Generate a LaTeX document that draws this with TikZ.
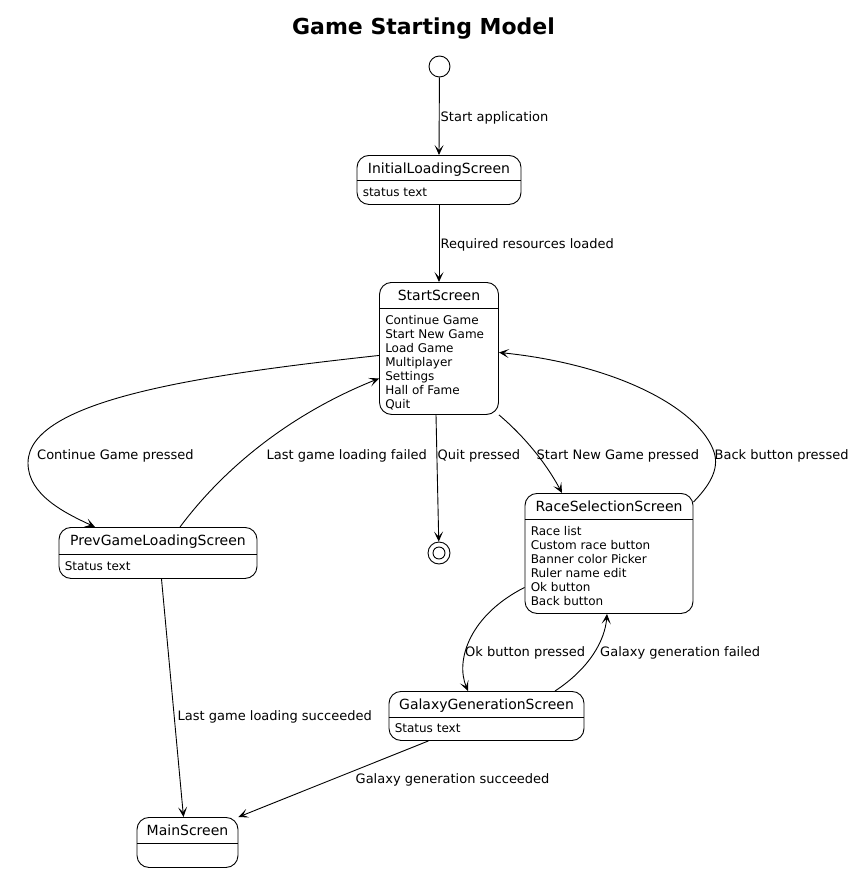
\documentclass[tikz,border=0pt]{standalone}
\usepackage{fontspec}
\setmainfont{DejaVu Sans}
\usetikzlibrary{arrows.meta}

\begin{document}
\begin{tikzpicture}[x=1pt,y=-1pt,
  statebox/.style={draw, rounded corners=12pt, line width=0.9pt, inner sep=0pt, anchor=north},
  statename/.style={font=\fontsize{14}{16}\selectfont, anchor=base, inner sep=0pt},
  statebody/.style={font=\fontsize{12}{14}\selectfont, anchor=base west, inner sep=0pt},
  separator/.style={line width=0.9pt},
  trlabel/.style={font=\fontsize{13}{15}\selectfont, anchor=base west, inner sep=0pt},
  transition/.style={-{Stealth[length=10pt,width=9pt,inset=5pt]}, line width=0.9pt},
  pseudo/.style={draw, circle, inner sep=0pt, line width=0.9pt}]
\useasboundingbox (0,0) rectangle (855,872);
\node[font=\fontsize{22}{26}\selectfont\bfseries, anchor=base] (Title) at (423.5,34.5) {Game Starting Model};

\node[pseudo, minimum size=21pt] (StartPoint) at (439.5,66.5) {};
\node[pseudo, minimum size=22pt] (EndPoint) at (439,553) {};
\node[pseudo, minimum size=12pt] (EndPointInner) at (439,553) {};

\node[statebox, minimum width=164pt, minimum height=49pt] (InitialLoadingScreen) at (439,155) {};
\node[statename] (InitialLoadingScreenName) at ([yshift=-18pt]InitialLoadingScreen.north) {InitialLoadingScreen};
\draw[separator] ([yshift=-25pt]InitialLoadingScreen.north west) -- ([yshift=-25pt]InitialLoadingScreen.north east);
\node[statebody] (InitialLoadingScreenBody) at ([xshift=6pt,yshift=-41.5pt]InitialLoadingScreen.north west) {status text};

\node[statebox, minimum width=119pt, minimum height=132pt] (StartScreen) at (439,282) {};
\node[statename] (StartScreenName) at ([yshift=-18.5pt]StartScreen.north) {StartScreen};
\draw[separator] ([yshift=-26pt]StartScreen.north west) -- ([yshift=-26pt]StartScreen.north east);
\node[statebody] (StartScreenBody) at ([xshift=6pt,yshift=-42pt]StartScreen.north west)
  {\begin{tabular}[t]{@{}l@{}}Continue Game\\Start New Game\\Load Game\\Multiplayer\\Settings\\Hall of Fame\\Quit\end{tabular}};

\node[statebox, minimum width=198pt, minimum height=51pt] (PrevGameLoadingScreen) at (158,527) {};
\node[statename] (PrevGameLoadingScreenName) at ([yshift=-18.5pt]PrevGameLoadingScreen.north) {PrevGameLoadingScreen};
\draw[separator] ([yshift=-27pt]PrevGameLoadingScreen.north west) -- ([yshift=-27pt]PrevGameLoadingScreen.north east);
\node[statebody] (PrevGameLoadingScreenBody) at ([xshift=6pt,yshift=-43pt]PrevGameLoadingScreen.north west) {Status text};

\node[statebox, minimum width=168pt, minimum height=120pt] (RaceSelectionScreen) at (609,493) {};
\node[statename] (RaceSelectionScreenName) at ([yshift=-18.5pt]RaceSelectionScreen.north) {RaceSelectionScreen};
\draw[separator] ([yshift=-26pt]RaceSelectionScreen.north west) -- ([yshift=-26pt]RaceSelectionScreen.north east);
\node[statebody] (RaceSelectionScreenBody) at ([xshift=6pt,yshift=-42pt]RaceSelectionScreen.north west)
  {\begin{tabular}[t]{@{}l@{}}Race list\\Custom race button\\Banner color Picker\\Ruler name edit\\Ok button\\Back button\end{tabular}};

\node[statebox, minimum width=195pt, minimum height=49pt] (GalaxyGenerationScreen) at (486.5,691) {};
\node[statename] (GalaxyGenerationScreenName) at ([yshift=-18.5pt]GalaxyGenerationScreen.north) {GalaxyGenerationScreen};
\draw[separator] ([yshift=-26pt]GalaxyGenerationScreen.north west) -- ([yshift=-26pt]GalaxyGenerationScreen.north east);
\node[statebody] (GalaxyGenerationScreenBody) at ([xshift=6pt,yshift=-41.5pt]GalaxyGenerationScreen.north west) {Status text};

\node[statebox, minimum width=101pt, minimum height=50pt] (MainScreen) at (187.5,817) {};
\node[statename] (MainScreenName) at ([yshift=-18.5pt]MainScreen.north) {MainScreen};
\draw[separator] ([yshift=-26pt]MainScreen.north west) -- ([yshift=-26pt]MainScreen.north east);

\draw[transition] (StartPoint) -- (InitialLoadingScreen.north);
\draw[transition] (InitialLoadingScreen.south) -- (StartScreen.north);
\draw[transition] ([yshift=-7pt]StartScreen.west) .. controls (200,375) and (28,400) .. (28,463)
  .. controls (28,495) and (65,513) .. ([xshift=-63pt]PrevGameLoadingScreen.north);
\draw[transition] ([xshift=22pt]PrevGameLoadingScreen.north) .. controls (230,460) and (300,410) .. ([yshift=-30pt]StartScreen.west);
\draw[transition] ([xshift=-3pt]StartScreen.south) -- (EndPoint);
\draw[transition] (StartScreen.south east) .. controls (524,436) and (546,463) .. ([xshift=-47pt]RaceSelectionScreen.north);
\draw[transition] ([yshift=-9pt]RaceSelectionScreen.north east) .. controls (708,487) and (720,470) .. (714,452)
  .. controls (700,410) and (620,365) .. ([yshift=-4pt]StartScreen.east);
\draw[transition] ([yshift=-34pt]RaceSelectionScreen.west) .. controls (470,615) and (455,660) .. ([xshift=-18.5pt]GalaxyGenerationScreen.north);
\draw[transition] ([xshift=68.5pt]GalaxyGenerationScreen.north) .. controls (590,668) and (605,640) .. ([xshift=-2pt]RaceSelectionScreen.south);
\draw[transition] ([xshift=3.5pt]PrevGameLoadingScreen.south) -- ([xshift=-4pt]MainScreen.north);
\draw[transition] ([xshift=-58pt]GalaxyGenerationScreen.south) -- (MainScreen.north east);

\node[trlabel] (StartApplicationLabel) at (440.5,121.5) {Start application};
\node[trlabel] (ResourcesLoadedLabel) at (440.5,248) {Required resources loaded};
\node[trlabel] (ContinueGameLabel) at (37,459) {Continue Game pressed};
\node[trlabel] (LoadingFailedLabel) at (266.5,459) {Last game loading failed};
\node[trlabel] (QuitLabel) at (437.5,459) {Quit pressed};
\node[trlabel] (StartNewGameLabel) at (536.5,459) {Start New Game pressed};
\node[trlabel] (BackButtonLabel) at (714.5,459) {Back button pressed};
\node[trlabel] (OkButtonLabel) at (465,656) {Ok button pressed};
\node[trlabel] (GenerationFailedLabel) at (600,656) {Galaxy generation failed};
\node[trlabel] (LoadingSucceededLabel) at (177.5,720) {Last game loading succeeded};
\node[trlabel] (GenerationSucceededLabel) at (355.5,783) {Galaxy generation succeeded};
\end{tikzpicture}
\end{document}
